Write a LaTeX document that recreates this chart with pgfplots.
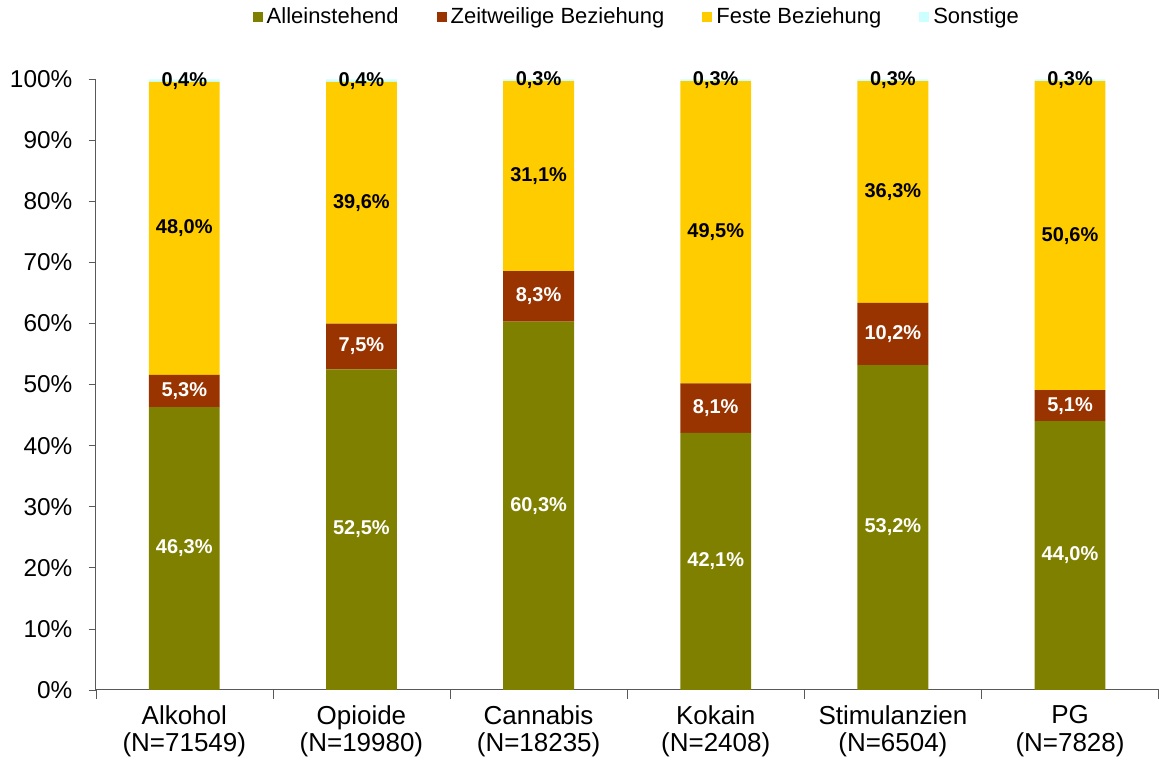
\documentclass[border=0pt]{standalone}
\usepackage{fontspec}
\setmainfont{Liberation Sans}
\usepackage{pgfplots}
\pgfplotsset{compat=1.18}
\definecolor{cAllein}{HTML}{808000}
\definecolor{cZeit}{HTML}{993300}
\definecolor{cFeste}{HTML}{FFCC00}
\definecolor{cSonst}{HTML}{CCFFFF}
\definecolor{cAxis}{HTML}{595959}

\begin{document}
\begin{tikzpicture}
\begin{axis}[
    ybar stacked,
    scale only axis,
    width=532pt, height=305.5pt,
    bar width=0.4,
    xmin=-0.5, xmax=5.5,
    ymin=0, ymax=100,
    axis x line*=bottom,
    axis y line*=left,
    axis line style={cAxis},
    tick style={cAxis},
    tick align=outside,
    xtick={0,...,5},
    xticklabels={{Alkohol\\(N=71549)},{Opioide\\(N=19980)},{Cannabis\\(N=18235)},
                 {Kokain\\(N=2408)},{Stimulanzien\\(N=6504)},{PG\\(N=7828)}},
    xticklabel style={align=center, font=\fontsize{13}{13.6}\selectfont, yshift=-1pt},
    major x tick style={draw=none},
    minor xtick={-0.5,0.5,...,5.5},
    minor tick length=4.5pt,
    ytick={0,10,...,100},
    major tick length=3.5pt,
    yticklabel={\pgfmathprintnumber{\tick}\%},
    yticklabel style={font=\fontsize{12.2}{14}\selectfont, inner xsep=5pt, xshift=-3pt},
    /pgf/number format/assume math mode=true,
    legend style={
        draw=none,
        legend columns=4,
        at={(0.51,1.1015)}, anchor=center,
        font=\fontsize{11}{13}\selectfont,
        /tikz/every even column/.append style={column sep=17pt}
    },
    legend image code/.code={\fill[#1] (0pt,-2.5pt) rectangle (5pt,2.5pt);},
    visualization depends on=rawy \as \rawy,
    nodes near coords={\pgfmathprintnumber[fixed,fixed zerofill,precision=1,use comma]{\rawy}\%},
    every node near coord/.append style={
        font=\fontsize{10}{12}\selectfont\bfseries,
        anchor=center
    },
]
  % Alleinstehend
  \addplot+[fill=cAllein, draw=none,
    every node near coord/.append style={text=white}] coordinates {
    (0,46.3) (1,52.5) (2,60.3) (3,42.1) (4,53.2) (5,44.0)};
  % Zeitweilige Beziehung
  \addplot+[fill=cZeit, draw=none,
    every node near coord/.append style={text=white}] coordinates {
    (0,5.3) (1,7.5) (2,8.3) (3,8.1) (4,10.2) (5,5.1)};
  % Feste Beziehung
  \addplot+[fill=cFeste, draw=none,
    every node near coord/.append style={text=black}] coordinates {
    (0,48.0) (1,39.6) (2,31.1) (3,49.5) (4,36.3) (5,50.6)};
  % Sonstige
  \addplot+[fill=cSonst, draw=none,
    every node near coord/.append style={text=black}] coordinates {
    (0,0.4) (1,0.4) (2,0.3) (3,0.3) (4,0.3) (5,0.3)};

  \legend{Alleinstehend, Zeitweilige Beziehung, Feste Beziehung, Sonstige}
\end{axis}
\end{tikzpicture}
\end{document}
